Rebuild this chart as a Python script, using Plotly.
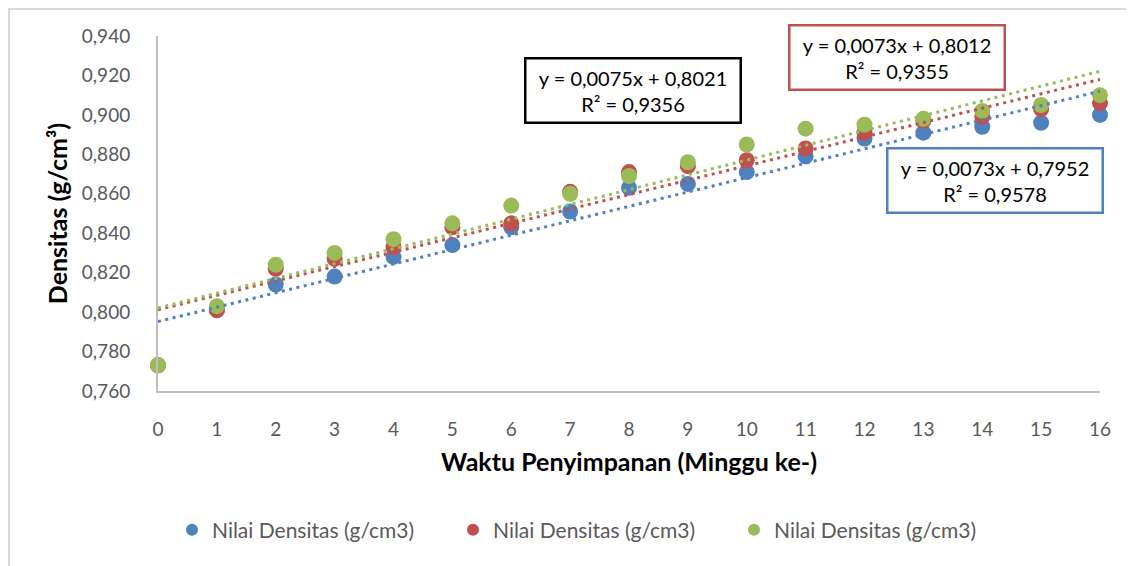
import plotly.graph_objects as go

# ---- data ----
weeks = list(range(17))
dens_blue = [0.773, 0.801, 0.814, 0.818, 0.828, 0.834, 0.843, 0.851, 0.863, 0.865,
             0.871, 0.879, 0.888, 0.891, 0.894, 0.896, 0.900]
dens_red = [0.773, 0.801, 0.822, 0.827, 0.833, 0.843, 0.845, 0.861, 0.871, 0.874,
            0.877, 0.883, 0.891, 0.897, 0.899, 0.903, 0.906]
dens_green = [0.773, 0.803, 0.824, 0.830, 0.837, 0.845, 0.854, 0.860, 0.869, 0.876,
              0.885, 0.893, 0.895, 0.898, 0.902, 0.905, 0.910]
series_names = ["Nilai Densitas (g/cm3)"] * 3
slopes = [0.0073, 0.0073, 0.0075]
intercepts = [0.7952, 0.8012, 0.8021]
eq_texts = ["y = 0,0073x + 0,7952<br>R² = 0,9578",
            "y = 0,0073x + 0,8012<br>R² = 0,9355",
            "y = 0,0075x + 0,8021<br>R² = 0,9356"]
eq_pos_x = [14.22, 12.56, 8.07]
eq_pos_y = [0.8665, 0.9289, 0.9126]
y_ticks = [0.76, 0.78, 0.80, 0.82, 0.84, 0.86, 0.88, 0.90, 0.92, 0.94]

colors = ["#4F81BD", "#C0504D", "#9BBB59"]
box_colors = ["#4F81BD", "#C0504D", "#000000"]
FONT = "Lato"

# plot area in figure pixels (page has an 8px body offset)
L, T, PW, PH = 150, 28, 942, 355

fig = go.Figure()
all_series = [dens_blue, dens_red, dens_green]
for i, ys in enumerate(all_series):
    fig.add_trace(go.Scatter(
        x=weeks, y=ys, mode="markers", name=series_names[i],
        marker=dict(size=16, color=colors[i]), cliponaxis=False))

for i in range(3):
    xs = [weeks[0], weeks[-1]]
    ys = [intercepts[i] + slopes[i] * v for v in xs]
    fig.add_trace(go.Scatter(
        x=xs, y=ys, mode="lines", showlegend=False, hoverinfo="skip",
        line=dict(color=colors[i], width=3, dash="3px,4.5px")))

for i in range(3):
    fig.add_annotation(
        x=eq_pos_x[i], y=eq_pos_y[i], xref="x", yref="y", text=eq_texts[i],
        showarrow=False, font=dict(family=FONT, size=20, color="#000000"),
        bgcolor="white", bordercolor=box_colors[i], borderwidth=2.5,
        borderpad=4, width=205, height=54, align="center")

fig.add_shape(type="rect", xref="paper", yref="paper",
              x0=(1 - L) / PW, x1=(1140 - L) / PW,
              y0=(T + PH - 575) / PH, y1=(T + PH - 1) / PH,
              line=dict(color="#D9D9D9", width=2), layer="below")

fig.update_layout(
    width=1134, height=566,
    margin=dict(l=L, r=1134 - L - PW, t=T, b=566 - T - PH, autoexpand=False),
    paper_bgcolor="white", plot_bgcolor="white",
    separators=",.",
    font=dict(family=FONT, color="#595959"),
    showlegend=True,
    legend=dict(orientation="h", x=(164 - L) / PW, xanchor="left",
                y=(T + PH - 522) / PH, yanchor="middle",
                font=dict(family=FONT, size=21, color="#595959"),
                entrywidth=236, entrywidthmode="pixels", itemsizing="constant"),
)
fig.update_xaxes(range=[0, 16], tickmode="array", tickvals=weeks,
                 ticktext=[str(w) for w in weeks], automargin=False,
                 showgrid=False, zeroline=False, showline=True,
                 linecolor="#BFBFBF", linewidth=2, ticks="",
                 ticklabelstandoff=20,
                 tickfont=dict(family=FONT, size=19, color="#595959"),
                 title=dict(text="<b>Waktu Penyimpanan (Minggu ke-)</b>", standoff=15,
                            font=dict(family=FONT, size=25, color="#000000")))
fig.update_yaxes(range=[0.76, 0.94], tickmode="array", tickvals=y_ticks,
                 tickformat=".3f", automargin=False,
                 showgrid=False, zeroline=False, showline=True,
                 linecolor="#BFBFBF", linewidth=2, ticks="",
                 ticklabelstandoff=22,
                 tickfont=dict(family=FONT, size=19, color="#595959"),
                 title=dict(text="<b>Densitas (g/cm³)</b>", standoff=7,
                            font=dict(family=FONT, size=25, color="#000000")))

fig.write_html("out.html")
